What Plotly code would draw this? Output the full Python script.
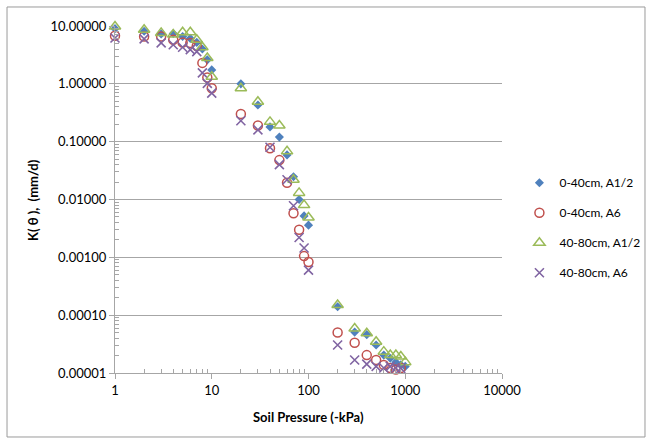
import plotly.graph_objects as go

pressure = [1, 2, 3, 4, 5, 6, 7, 8, 9, 10, 20, 30, 40, 50, 60, 70, 80, 90, 100,
            200, 300, 400, 500, 600, 700, 800, 900, 1000]

k_0_40_a12 = [9.0, 8.1, 7.3, 7.4, 6.6, 6.1, 5.2, 4.0, 2.6, 1.74, 1.0, 0.43, 0.18, 0.12,
              0.059, 0.0248, 0.010, 0.0052, 0.0036, 0.00014, 0.000051, 0.000046,
              0.0000305, 0.0000204, 0.000018, 0.0000154, 0.0000138, 0.000013]

k_0_40_a6 = [6.8, 6.6, 6.6, 5.8, 5.2, 5.1, 4.5, 2.3, 1.29, 0.84, 0.30, 0.19, 0.077, 0.048,
             0.0195, 0.0058, 0.0030, 0.00105, 0.00083, 0.00005, 0.0000334, 0.0000204,
             0.0000168, 0.0000138, 0.0000122, 0.0000115, 0.0000122]

k_40_80_a12 = [9.8, 8.6, 7.6, 7.1, 7.8, 7.8, 5.8, 4.3, 2.8, 1.33, 0.84, 0.49, 0.22, 0.19,
               0.068, 0.022, 0.013, 0.008, 0.0049, 0.00015, 0.000059, 0.0000486,
               0.0000347, 0.0000234, 0.0000204, 0.0000204, 0.0000193, 0.0000154]

k_40_80_a6 = [6.2, 6.0, 5.1, 4.75, 4.3, 3.9, 3.6, 1.55, 1.02, 0.69, 0.23, 0.16, 0.08, 0.040,
              0.022, 0.0078, 0.0022, 0.00145, 0.0006, 0.0000305, 0.0000168, 0.0000142,
              0.000013, 0.0000122, 0.000013, 0.0000122, 0.000012]

series_names = ["0-40cm, A1/2", "0-40cm, A6", "40-80cm, A1/2", "40-80cm, A6"]

y_tickvals = [10, 1, 0.1, 0.01, 0.001, 0.0001, 0.00001]
y_ticktext = ["10.00000", "1.00000", "0.10000", "0.01000", "0.00100", "0.00010", "0.00001"]
x_tickvals = [1, 10, 100, 1000, 10000]
x_ticktext = ["1", "10", "100", "1000", "10000"]

x_minor = [m * 10 ** e for e in range(0, 4) for m in range(2, 10)]
y_minor = [m * 10.0 ** e for e in range(-5, 1) for m in range(2, 10)]

FONT = "Lato, 'Open Sans', sans-serif"
GRAY = "#a6a6a6"

fig = go.Figure()

styles = [
    dict(symbol="diamond", size=7, color="#4F81BD", line=dict(width=0)),
    dict(symbol="circle-open", size=9, color="#C0504D", line=dict(width=1.5, color="#C0504D")),
    dict(symbol="triangle-up-open", size=10, color="#9BBB59", line=dict(width=1.5, color="#9BBB59")),
    dict(symbol="x-thin-open", size=9, color="#8064A2", line=dict(width=1.6, color="#8064A2")),
]
datasets = [k_0_40_a12, k_0_40_a6, k_40_80_a12, k_40_80_a6]

for name, ys, st in zip(series_names, datasets, styles):
    fig.add_trace(go.Scatter(
        x=pressure[:len(ys)], y=ys, mode="markers", name=name,
        legendgroup=name, marker=st, cliponaxis=False,
    ))

fig.update_layout(
    width=652, height=445,
    margin=dict(l=115, r=150, t=26, b=72, autoexpand=False),
    paper_bgcolor="white", plot_bgcolor="white",
    font=dict(family=FONT, size=13, color="#000000"),
    showlegend=True,
    legend=dict(x=1.045, y=0.59, xanchor="left", yanchor="top",
                font=dict(family=FONT, size=12, color="#000000"),
                tracegroupgap=11, itemwidth=30, bgcolor="rgba(0,0,0,0)"),
    xaxis=dict(type="log", range=[0, 4], tickvals=x_tickvals, ticktext=x_ticktext,
               showgrid=False, showline=True, linecolor=GRAY, linewidth=1,
               ticks="outside", ticklen=5, tickcolor=GRAY,
               minor=dict(tickvals=x_minor, ticks="inside", ticklen=4,
                          tickcolor=GRAY, showgrid=False),
               zeroline=False, tickfont=dict(size=13)),
    yaxis=dict(type="log", range=[-5, 1], tickvals=y_tickvals, ticktext=y_ticktext,
               showgrid=True, gridcolor=GRAY, gridwidth=1,
               showline=True, linecolor=GRAY, linewidth=1,
               ticks="outside", ticklen=5, tickcolor=GRAY,
               minor=dict(tickvals=y_minor, ticks="inside", ticklen=4,
                          tickcolor=GRAY, showgrid=False),
               zeroline=False, tickfont=dict(size=13)),
    annotations=[
        dict(text="<b>Soil Pressure (-kPa)</b>", xref="paper", yref="paper",
             x=0.5, y=-0.127, xanchor="center", yanchor="middle",
             showarrow=False, font=dict(size=13)),
        dict(text="<b>K( θ ),  (mm/d)</b>", xref="paper", yref="paper",
             x=-0.212, y=0.4986, xanchor="center", yanchor="middle", textangle=-90,
             showarrow=False, font=dict(size=13)),
    ],
    shapes=[
        dict(type="rect", xref="paper", yref="paper", x0=-0.279, x1=1.3695,
             y0=-0.1844, y1=1.0548, line=dict(color="#9a9a9a", width=1),
             fillcolor="rgba(0,0,0,0)", layer="below"),
    ],
)

fig.write_html("out.html")
